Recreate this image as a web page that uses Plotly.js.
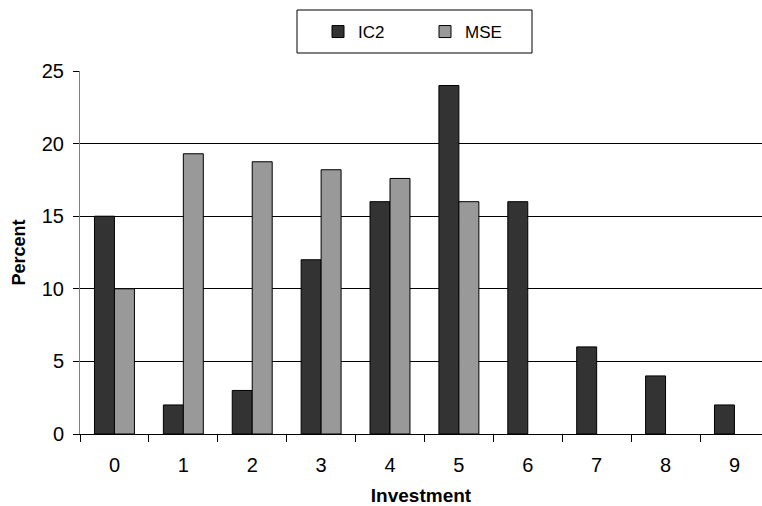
<!DOCTYPE html>
<html>
<head>
<meta charset="utf-8">
<script src="https://cdn.plot.ly/plotly-3.0.1.min.js"></script>
<style>html,body{margin:0;padding:0;background:#fff;}#chart{width:762px;height:506px;}</style>
</head>
<body>
<div id="chart"></div>
<script>
var categories = ["0","1","2","3","4","5","6","7","8","9"];
var ic2Values = [15, 2, 3, 12, 16, 24, 16, 6, 4, 2];
var mseValues = [10, 19.3, 18.75, 18.2, 17.6, 16, null, null, null, null];
var seriesNames = ["IC2", "MSE"];
var yTicks = [0, 5, 10, 15, 20, 25];

var W = 762, H = 506;
var L = 80, R = 0, T = 71, B = 72;
var pw = W - L - R, ph = H - T - B;
function px(x){ return (x - L) / pw; }
function py(y){ return (H - B - y) / ph; }

var font = "Liberation Sans, Arial, sans-serif";

var traces = [
  {type: "bar", name: seriesNames[0], x: categories, y: ic2Values,
   marker: {color: "#333333", line: {color: "#000000", width: 1}}},
  {type: "bar", name: seriesNames[1], x: categories, y: mseValues,
   marker: {color: "#999999", line: {color: "#000000", width: 1}}}
];

var layout = {
  width: W, height: H,
  margin: {l: L, r: R, t: T, b: B, pad: 0},
  paper_bgcolor: "#ffffff", plot_bgcolor: "#ffffff",
  font: {family: font, color: "#000000", size: 18},
  barmode: "group", bargap: 0.42, bargroupgap: 0,
  showlegend: true,
  legend: {
    orientation: "h", x: px(318), xanchor: "left", y: py(14), yanchor: "top",
    bgcolor: "rgba(0,0,0,0)", borderwidth: 0,
    font: {family: font, size: 17, color: "#000"},
    entrywidth: 62, entrywidthmode: "pixels",
    traceorder: "normal"
  },
  xaxis: {
    type: "category", range: [-0.5, 9.4],
    tickson: "boundaries", ticks: "outside", ticklen: 7, tickcolor: "#000", tickwidth: 1,
    ticklabelstandoff: 13,
    showline: true, linecolor: "#000", linewidth: 1,
    showgrid: false, zeroline: false,
    tickfont: {family: font, size: 20, color: "#000"},
    title: {text: "<b>Investment</b>", font: {family: font, size: 19, color: "#000"}, standoff: 23}
  },
  yaxis: {
    range: [0, 25], tickvals: yTicks, ticktext: yTicks.map(String),
    ticks: "outside", ticklen: 6, tickcolor: "#000", tickwidth: 1,
    ticklabelstandoff: 5,
    showline: true, linecolor: "#808080", linewidth: 1,
    showgrid: true, gridcolor: "#000", gridwidth: 1,
    zeroline: false,
    tickfont: {family: font, size: 20, color: "#000"},
    title: {text: "<b>Percent</b>", font: {family: font, size: 18, color: "#000"}, standoff: 11}
  },
  shapes: [
    {type: "rect", xref: "paper", yref: "paper",
     x0: px(297), x1: px(532), y0: py(53), y1: py(10),
     line: {color: "#000", width: 1}, fillcolor: "rgba(0,0,0,0)", layer: "below"}
  ]
};

Plotly.newPlot("chart", traces, layout, {displayModeBar: false, staticPlot: true});
</script>
</body>
</html>
